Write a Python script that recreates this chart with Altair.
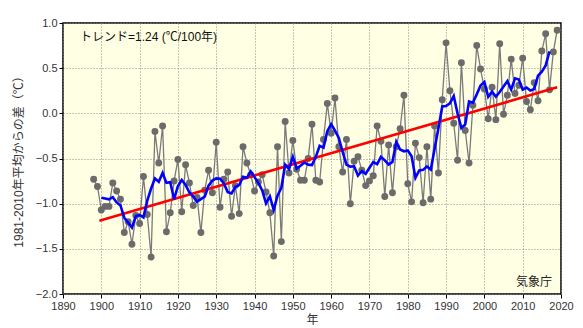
import altair as alt
import pandas as pd

years = list(range(1898, 2020))
anomaly = [
    -0.73, -0.81, -1.07, -1.03, -1.03, -0.77, -0.86, -0.95, -1.32, -1.20,  # 1898-1907
    -1.45, -1.13, -1.22, -0.70, -1.12, -1.59, -0.20, -0.55, -0.14, -1.31,  # 1908-1917
    -1.10, -0.75, -0.51, -1.09, -0.57, -0.77, -1.02, -0.93, -1.32, -0.85,  # 1918-1927
    -0.63, -0.88, -0.32, -1.04, -0.73, -0.65, -1.14, -0.80, -1.11, -0.37,  # 1928-1937
    -0.55, -0.68, -0.86, -0.76, -0.68, -0.87, -1.10, -1.58, -0.37, -1.42,  # 1938-1947
    -0.09, -0.66, -0.30, -0.62, -0.74, -0.74, -0.50, -0.12, -0.74, -0.76,  # 1948-1957
    -0.29, 0.11, -0.22, 0.17, -0.37, -0.65, -0.29, -1.00, -0.53, -0.48,    # 1958-1967
    -0.63, -0.80, -0.75, -0.69, -0.14, -0.31, -0.92, -0.35, -0.88, -0.37,  # 1968-1977
    -0.17, 0.20, -0.78, -0.98, -0.33, -0.49, -0.99, -0.37, -0.95, -0.14,   # 1978-1987
    -0.66, 0.15, 0.78, 0.25, -0.11, -0.52, 0.56, -0.19, -0.55, 0.09,       # 1988-1997
    0.75, 0.49, 0.27, -0.06, 0.29, -0.07, 0.77, -0.01, 0.20, 0.60,         # 1998-2007
    0.22, 0.31, 0.61, 0.13, 0.04, 0.34, 0.14, 0.69, 0.88, 0.26,            # 2008-2017
    0.68, 0.92,                                                            # 2018-2019
]
x_ticks = list(range(1890, 2021, 10))
y_ticks = [-2.0, -1.5, -1.0, -0.5, 0.0, 0.5, 1.0]

df = pd.DataFrame({"year": years, "val": anomaly})

FONT = "Liberation Sans, Noto Sans CJK JP"

x_axis = alt.Axis(values=x_ticks, format="d", title="年", grid=True,
                  gridDash=[1, 2], gridColor="#8a8a8a", gridOpacity=1,
                  tickSize=4, tickColor="#000000", labelFontSize=11,
                  labelOverlap=False, labelFlush=False,
                  labelColor="#333333", titleFontSize=12, titleFontWeight="normal",
                  titleColor="#333333", titlePadding=3, domain=False,
                  labelFont=FONT, titleFont=FONT)
y_axis = alt.Axis(values=y_ticks, format=".1f", title="1981-2010年平均からの差（℃）",
                  grid=True, gridDash=[1, 2], gridColor="#8a8a8a", gridOpacity=1,
                  tickSize=4, tickColor="#000000", labelFontSize=11,
                  labelOverlap=False, labelFlush=False,
                  labelColor="#333333", titleFontSize=12, titleFontWeight="normal",
                  titleColor="#333333", titlePadding=10, domain=False,
                  labelFont=FONT, titleFont=FONT)
x_scale = alt.Scale(domain=[1890, 2020], nice=False)
y_scale = alt.Scale(domain=[-2.0, 1.0], nice=False)


def X(field="year"):
    return alt.X(f"{field}:Q", scale=x_scale, axis=x_axis, title="年")


def Y(field):
    return alt.Y(f"{field}:Q", scale=y_scale, axis=y_axis,
                 title="1981-2010年平均からの差（℃）")


base = alt.Chart(df)

gray_line = base.mark_line(color="#7a7a7a", strokeWidth=1.3).encode(x=X(), y=Y("val"))
points = base.mark_circle(color="#6b6b6b", size=48, opacity=1).encode(x=X(), y=Y("val"))

running = base.transform_window(
    rm="mean(val)", n="count(val)", frame=[-2, 2], sort=[{"field": "year"}]
).transform_filter(alt.datum.n == 5).mark_line(color="#0000ff", strokeWidth=2.6).encode(
    x=X(), y=Y("rm"))

trend = base.transform_regression("year", "val", extent=[1899.5, 2019]).mark_line(
    color="#ff0000", strokeWidth=2.6).encode(x=X(), y=Y("val"))

label1 = alt.Chart(pd.DataFrame({"t": ["トレンド=1.24 (℃/100年)"]})).mark_text(
    align="left", baseline="middle", fontSize=12, font=FONT, color="#111111"
).encode(x=alt.value(17), y=alt.value(14), text="t:N")

label2 = alt.Chart(pd.DataFrame({"t": ["気象庁"]})).mark_text(
    align="right", baseline="middle", fontSize=12, font=FONT, color="#222222"
).encode(x=alt.value(489), y=alt.value(259), text="t:N")

chart = alt.layer(gray_line, points, trend, running, label1, label2).properties(
    width=498, height=271,
    autosize=alt.AutoSizeParams(type="none"),
    padding={"left": 63, "top": 23, "right": 22, "bottom": 34},
    background="#ffffff",
).configure_view(
    fill="#ffffe3", stroke="#000000", strokeWidth=1.5
)

chart.save("out.html", embed_options={"renderer": "svg", "actions": False})
